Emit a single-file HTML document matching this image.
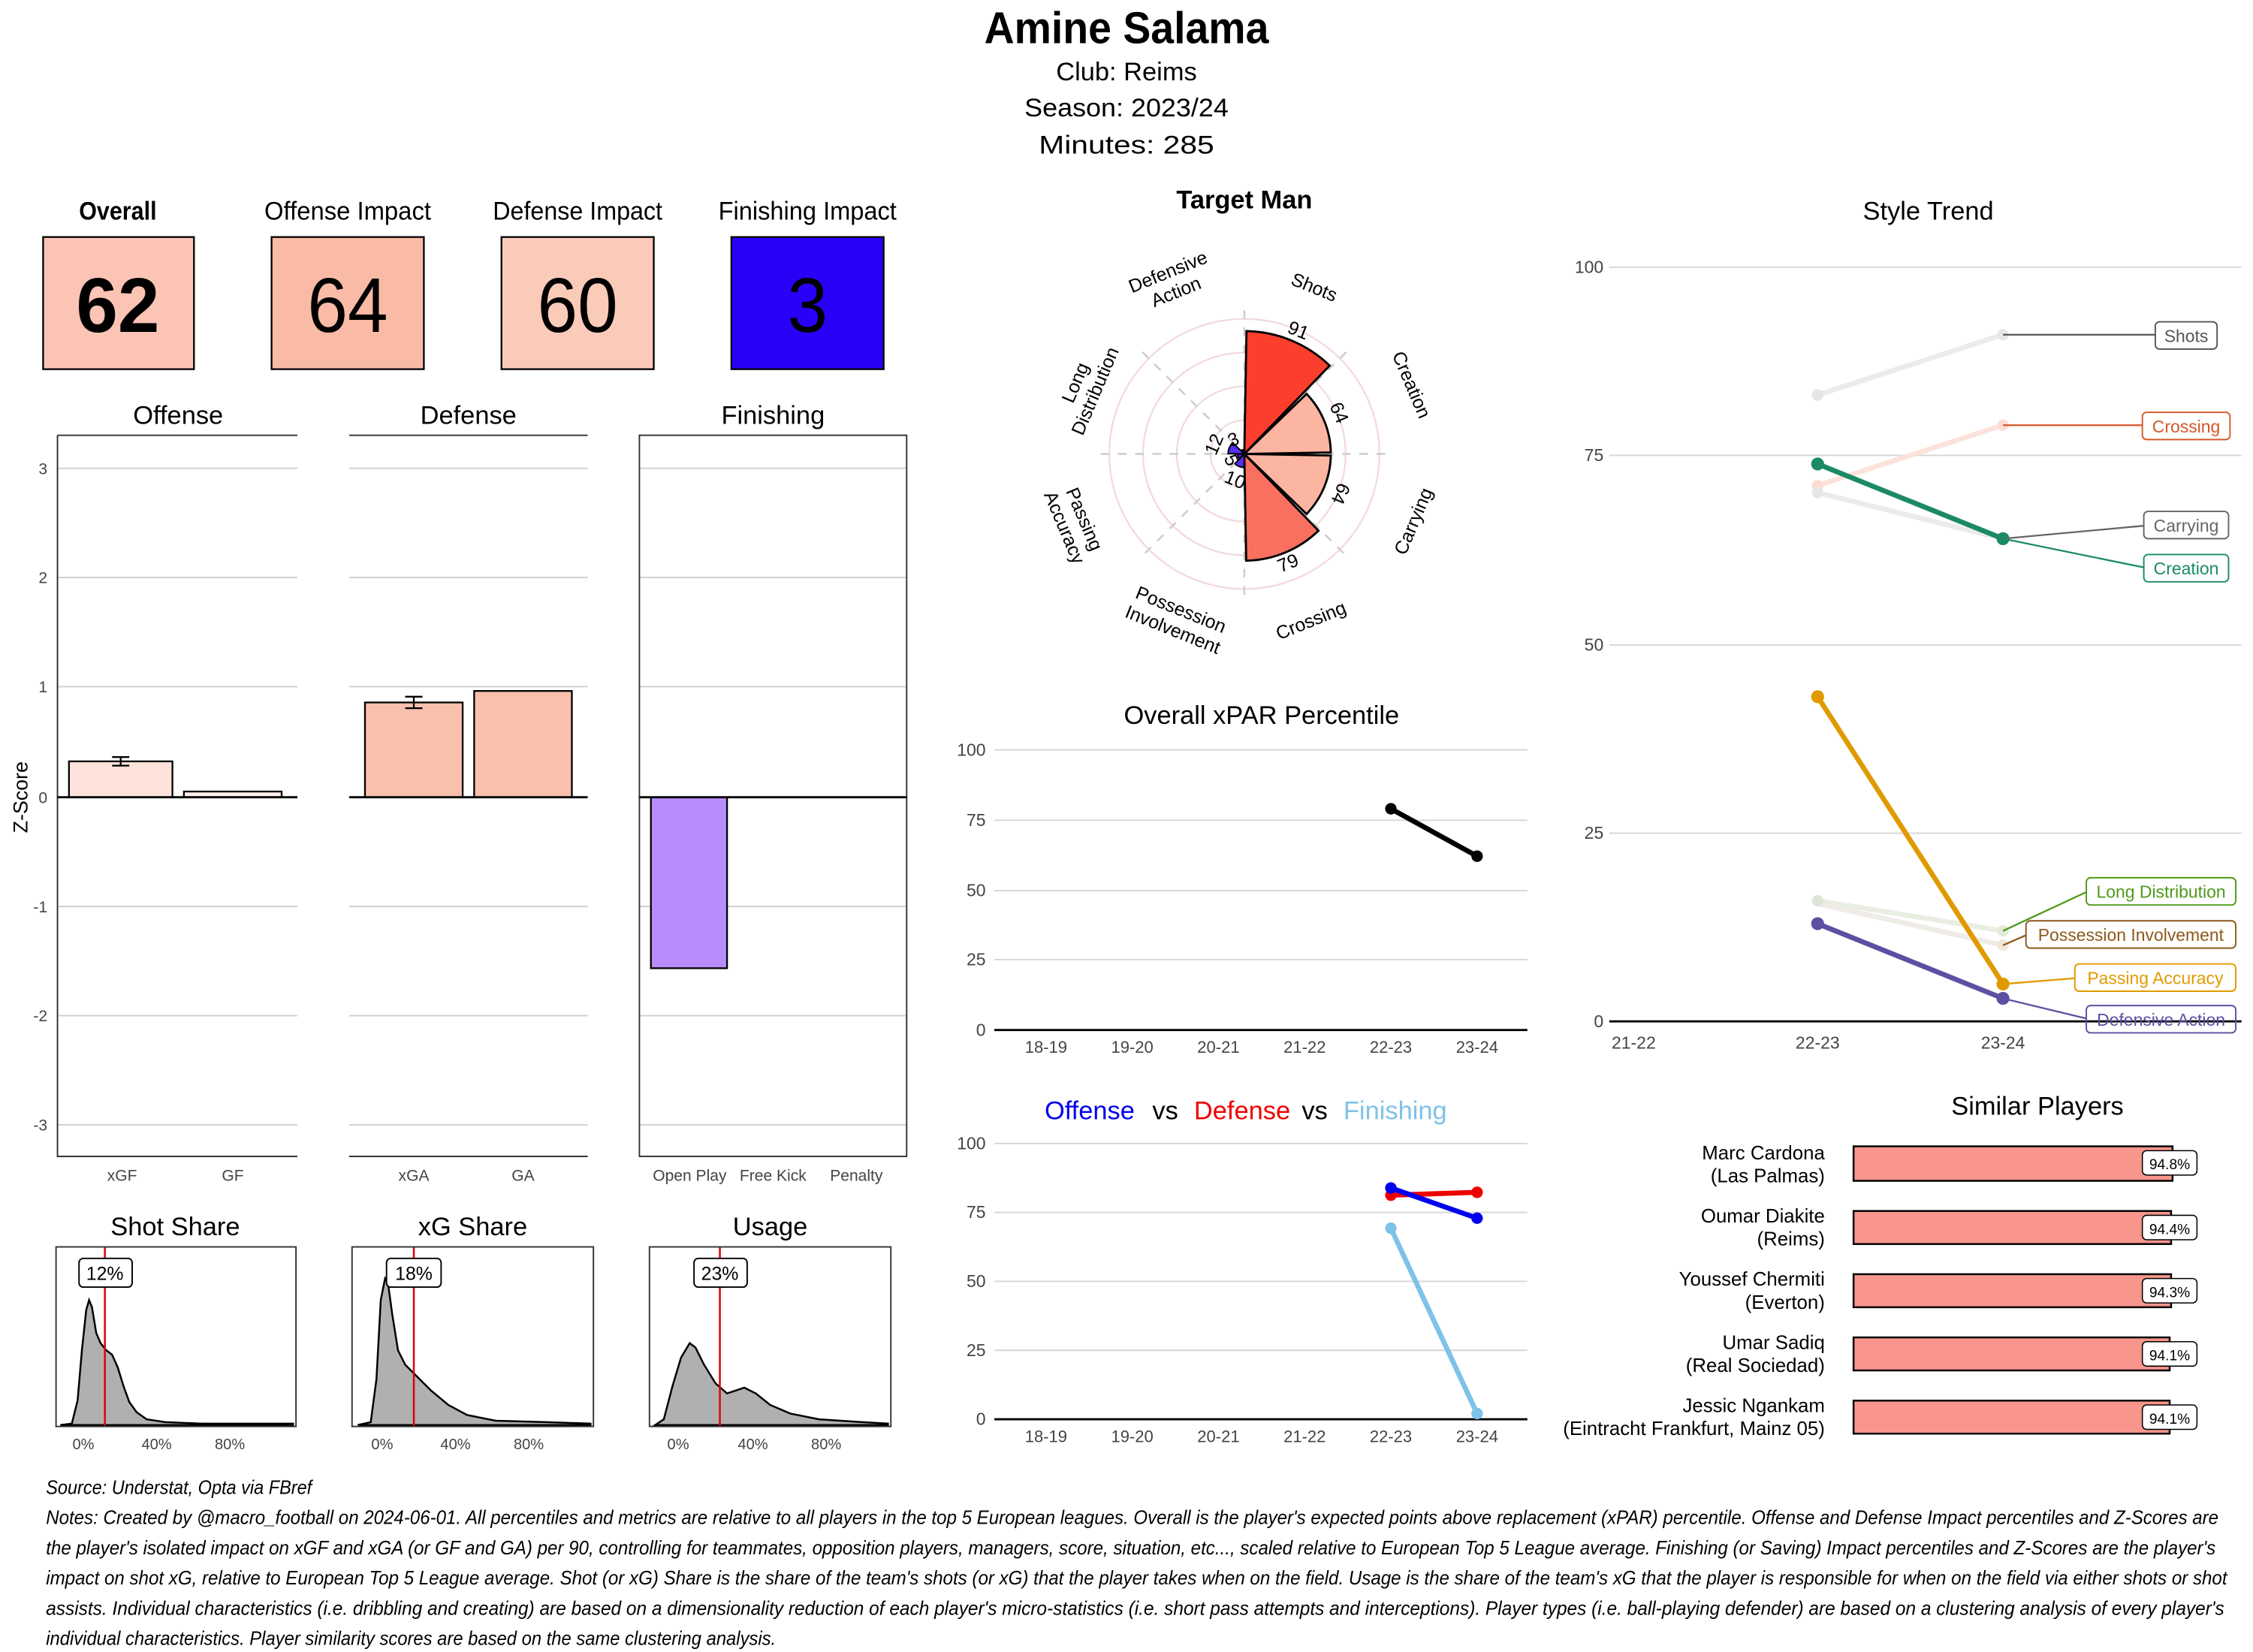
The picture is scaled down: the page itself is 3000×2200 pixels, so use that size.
<!DOCTYPE html>
<html><head><meta charset="utf-8"><style>
html,body{margin:0;padding:0;background:#fff;width:3000px;height:2200px;overflow:hidden}
svg{display:block}
text{font-family:"Liberation Sans",sans-serif}
</style></head><body>
<svg width="3000" height="2200" viewBox="0 0 1568 1150" preserveAspectRatio="none" xmlns="http://www.w3.org/2000/svg">
<rect width="1568" height="1150" fill="#fff"/>
<!-- Header -->
<text x="784" y="30" text-anchor="middle" font-size="31" font-weight="bold" textLength="198" lengthAdjust="spacingAndGlyphs">Amine Salama</text>
<text x="784" y="56" text-anchor="middle" font-size="18" textLength="98" lengthAdjust="spacingAndGlyphs">Club:  Reims</text>
<text x="784" y="81" text-anchor="middle" font-size="18" textLength="142" lengthAdjust="spacingAndGlyphs">Season:  2023/24</text>
<text x="784" y="107" text-anchor="middle" font-size="18" textLength="122" lengthAdjust="spacingAndGlyphs">Minutes:  285</text>

<!-- Score boxes -->
<g font-size="18">
<text x="82" y="153" text-anchor="middle" font-weight="bold" textLength="54" lengthAdjust="spacingAndGlyphs">Overall</text>
<text x="242" y="153" text-anchor="middle" textLength="116" lengthAdjust="spacingAndGlyphs">Offense Impact</text>
<text x="402" y="153" text-anchor="middle" textLength="118" lengthAdjust="spacingAndGlyphs">Defense Impact</text>
<text x="562" y="153" text-anchor="middle" textLength="124" lengthAdjust="spacingAndGlyphs">Finishing Impact</text>
</g>
<rect x="30" y="165" width="105" height="92" fill="#fbc4b5" stroke="#000" stroke-width="1.2"/>
<rect x="189" y="165" width="106" height="92" fill="#f9bba6" stroke="#000" stroke-width="1.2"/>
<rect x="349" y="165" width="106" height="92" fill="#fbcbb9" stroke="#000" stroke-width="1.2"/>
<rect x="509" y="165" width="106" height="92" fill="#2a00f6" stroke="#000" stroke-width="1.2"/>
<g font-size="54" text-anchor="middle">
<text x="82" y="231" font-weight="bold" textLength="58" lengthAdjust="spacingAndGlyphs">62</text>
<text x="242" y="231" textLength="56" lengthAdjust="spacingAndGlyphs">64</text>
<text x="402" y="231" textLength="56" lengthAdjust="spacingAndGlyphs">60</text>
<text x="562" y="231" textLength="28" lengthAdjust="spacingAndGlyphs">3</text>
</g>

<!-- Bar panels -->
<g font-size="18" text-anchor="middle">
<text x="124" y="295">Offense</text>
<text x="326" y="295">Defense</text>
<text x="538" y="295">Finishing</text>
</g>
<g stroke="#cfcfcf" stroke-width="1">
<line x1="40" x2="207" y1="326" y2="326"/><line x1="40" x2="207" y1="402" y2="402"/><line x1="40" x2="207" y1="478" y2="478"/><line x1="40" x2="207" y1="631" y2="631"/><line x1="40" x2="207" y1="707" y2="707"/><line x1="40" x2="207" y1="783" y2="783"/>
<line x1="243" x2="409" y1="326" y2="326"/><line x1="243" x2="409" y1="402" y2="402"/><line x1="243" x2="409" y1="478" y2="478"/><line x1="243" x2="409" y1="631" y2="631"/><line x1="243" x2="409" y1="707" y2="707"/><line x1="243" x2="409" y1="783" y2="783"/>
<line x1="445" x2="631" y1="326" y2="326"/><line x1="445" x2="631" y1="402" y2="402"/><line x1="445" x2="631" y1="478" y2="478"/><line x1="445" x2="631" y1="631" y2="631"/><line x1="445" x2="631" y1="707" y2="707"/><line x1="445" x2="631" y1="783" y2="783"/>
</g>
<g stroke="#333" stroke-width="1" fill="none">
<path d="M40,303 H207 M40,303 V805 H207"/>
<path d="M243,303 H409 M243,805 H409"/>
<rect x="445" y="303" width="186" height="502"/>
</g>
<g font-size="11" fill="#444" text-anchor="end">
<text x="33" y="330">3</text><text x="33" y="406">2</text><text x="33" y="482">1</text><text x="33" y="559">0</text><text x="33" y="635">-1</text><text x="33" y="711">-2</text><text x="33" y="787">-3</text>
</g>
<text x="19" y="555" font-size="14" text-anchor="middle" transform="rotate(-90 19 555)">Z-Score</text>
<!-- bars -->
<rect x="48" y="530" width="72" height="25" fill="#fde3dc" stroke="#000" stroke-width="1.2"/>
<rect x="128" y="551" width="68" height="4" fill="#fdeee9" stroke="#000" stroke-width="1.2"/>
<path d="M78,527 H90 M84,527 V533 M78,533 H90" stroke="#000" stroke-width="1.2"/>
<rect x="254" y="489" width="68" height="66" fill="#f9c0ad" stroke="#000" stroke-width="1.2"/>
<rect x="330" y="481" width="68" height="74" fill="#f9c0ad" stroke="#000" stroke-width="1.2"/>
<path d="M282,485 H294 M288,485 V493 M282,493 H294" stroke="#000" stroke-width="1.2"/>
<rect x="453" y="555" width="53" height="119" fill="#b98cfb" stroke="#000" stroke-width="1.2"/>
<g stroke="#000" stroke-width="1.5"><line x1="40" x2="207" y1="555" y2="555"/><line x1="243" x2="409" y1="555" y2="555"/><line x1="445" x2="631" y1="555" y2="555"/></g>
<g font-size="11" fill="#444" text-anchor="middle">
<text x="85" y="822">xGF</text><text x="162" y="822">GF</text><text x="288" y="822">xGA</text><text x="364" y="822">GA</text>
<text x="480" y="822">Open Play</text><text x="538" y="822">Free Kick</text><text x="596" y="822">Penalty</text>
</g>

<!-- Density panels -->
<g font-size="18" text-anchor="middle">
<text x="122" y="860">Shot Share</text><text x="329" y="860">xG Share</text><text x="536" y="860">Usage</text>
</g>
<path d="M42,992 L50,991 L54,975 L57,940 L60,912 L62,905 L64,910 L67,928 L70,935 L74,940 L78,943 L82,952 L86,965 L90,976 L95,983 L102,988 L115,990 L140,991 L204,991 L204,992 Z" fill="#b0b0b0" stroke="#000" stroke-width="1.3"/>
<path d="M249,992 L258,990 L262,960 L265,905 L268,890 L270,893 L273,915 L277,940 L282,950 L290,958 L300,968 L312,978 L325,985 L345,989 L380,990 L411,991 L411,992 Z" fill="#b0b0b0" stroke="#000" stroke-width="1.3"/>
<path d="M456,992 L462,988 L468,965 L474,945 L480,935 L484,938 L490,950 L498,963 L506,970 L512,968 L518,966 L526,970 L536,978 L550,984 L570,988 L600,990 L618,991 L618,992 Z" fill="#b0b0b0" stroke="#000" stroke-width="1.3"/>
<g stroke="#e00000" stroke-width="1.3"><line x1="73" x2="73" y1="868" y2="993"/><line x1="288" x2="288" y1="868" y2="993"/><line x1="501" x2="501" y1="868" y2="993"/></g>
<g fill="none" stroke="#333" stroke-width="1"><rect x="39" y="868" width="167" height="125"/><rect x="245" y="868" width="168" height="125"/><rect x="452" y="868" width="168" height="125"/></g>
<g fill="#fff" stroke="#000" stroke-width="1"><rect x="55" y="876" width="37" height="20" rx="3"/><rect x="269" y="876" width="38" height="20" rx="3"/><rect x="483" y="876" width="37" height="20" rx="3"/></g>
<g font-size="13" text-anchor="middle"><text x="73" y="891">12%</text><text x="288" y="891">18%</text><text x="501" y="891">23%</text></g>
<g font-size="10.5" fill="#444" text-anchor="middle">
<text x="58" y="1009">0%</text><text x="109" y="1009">40%</text><text x="160" y="1009">80%</text>
<text x="266" y="1009">0%</text><text x="317" y="1009">40%</text><text x="368" y="1009">80%</text>
<text x="472" y="1009">0%</text><text x="524" y="1009">40%</text><text x="575" y="1009">80%</text>
</g>

<!-- Radar -->
<text x="866" y="145" text-anchor="middle" font-size="18" font-weight="bold">Target Man</text>
<g fill="none" stroke="#f3dada" stroke-width="1.2">
<circle cx="866" cy="316" r="23.5"/><circle cx="866" cy="316" r="47"/><circle cx="866" cy="316" r="70.5"/><circle cx="866" cy="316" r="94"/>
</g>
<g stroke="#cccccc" stroke-width="1.3" stroke-dasharray="6,6">
<line x1="866" y1="216" x2="866" y2="416"/><line x1="766" y1="316" x2="966" y2="316"/>
<line x1="795" y1="245" x2="937" y2="387"/><line x1="937" y1="245" x2="795" y2="387"/>
</g>
<g stroke="#000" stroke-width="1.5">
<path d="M866,316 L867.5,230.5 A85.5,85.5 0 0 1 925.4,254.5 Z" fill="#fb3f2c"/>
<path d="M866,316 L909.3,274.2 A60.2,60.2 0 0 1 926.2,315 Z" fill="#fbb5a0"/>
<path d="M866,316 L926.2,317.1 A60.2,60.2 0 0 1 909.3,357.8 Z" fill="#fbb5a0"/>
<path d="M866,316 L917.6,369.4 A74.3,74.3 0 0 1 867.3,390.3 Z" fill="#fa7060"/>
<path d="M866,316 L865.8,325.4 A9.4,9.4 0 0 1 859.5,322.8 Z" fill="#5a2ef0" stroke-width="1"/>
<path d="M866,316 L862.6,319.3 A4.7,4.7 0 0 1 861.3,316.1 Z" fill="#4a1ff5" stroke-width="1"/>
<path d="M866,316 L854.7,315.8 A11.3,11.3 0 0 1 857.9,308.2 Z" fill="#5a2ef0" stroke-width="1"/>
<path d="M866,316 L864.1,313.3 A2.8,2.8 0 0 1 865.9,313.2 Z" fill="#3a10f5" stroke-width="1"/>
</g>
<g font-size="13" text-anchor="middle">
<text x="902" y="234" transform="rotate(22 902 234)">91</text>
<text x="928" y="289" transform="rotate(67 928 289)">64</text>
<text x="929" y="342" transform="rotate(113 929 342)">64</text>
<text x="898" y="396" transform="rotate(-22 898 396)">79</text>
<text x="849" y="311" transform="rotate(-67 849 311)">12</text>
<text x="860" y="310" transform="rotate(-22 860 310)">3</text>
<text x="853" y="322" transform="rotate(67 853 322)">5</text>
<text x="858" y="338" transform="rotate(22 858 338)">10</text>
</g>
<g font-size="13" text-anchor="middle">
<text x="913" y="204" transform="rotate(22 913 204)">Shots</text>
<text x="982" y="268" transform="rotate(67 982 268)" dy="4">Creation</text>
<text x="984" y="363" transform="rotate(-67 984 363)" dy="4">Carrying</text>
<text x="914" y="436" transform="rotate(-22 914 436)">Crossing</text>
<g transform="rotate(22 818 434)"><text x="818" y="428">Possession</text><text x="818" y="443">Involvement</text></g>
<g transform="rotate(67 746 365)"><text x="746" y="360">Passing</text><text x="746" y="375">Accuracy</text></g>
<g transform="rotate(-67 757 270)"><text x="757" y="265">Long</text><text x="757" y="280">Distribution</text></g>
<g transform="rotate(-22 816 197)"><text x="816" y="193">Defensive</text><text x="816" y="208">Action</text></g>
</g>

<!-- xPAR -->
<text x="878" y="504" text-anchor="middle" font-size="18">Overall xPAR Percentile</text>
<g stroke="#d6d6d6"><line x1="692" x2="1063" y1="522" y2="522"/><line x1="692" x2="1063" y1="571" y2="571"/><line x1="692" x2="1063" y1="620" y2="620"/><line x1="692" x2="1063" y1="668" y2="668"/></g>
<line x1="692" x2="1063" y1="717" y2="717" stroke="#000" stroke-width="1.5"/>
<g font-size="12" fill="#444" text-anchor="end"><text x="686" y="526">100</text><text x="686" y="575">75</text><text x="686" y="624">50</text><text x="686" y="672">25</text><text x="686" y="721">0</text></g>
<g font-size="11.5" fill="#444" text-anchor="middle"><text x="728" y="733">18-19</text><text x="788" y="733">19-20</text><text x="848" y="733">20-21</text><text x="908" y="733">21-22</text><text x="968" y="733">22-23</text><text x="1028" y="733">23-24</text></g>
<line x1="968" y1="563" x2="1028" y2="596" stroke="#000" stroke-width="3.5"/>
<circle cx="968" cy="563" r="4"/><circle cx="1028" cy="596" r="4"/>

<!-- OvDvF -->
<g font-size="18"><text x="727" y="779" fill="#0000ee">Offense</text><text x="802" y="779">vs</text><text x="831" y="779" fill="#ee0000">Defense</text><text x="906" y="779">vs</text><text x="935" y="779" fill="#7ec2e8">Finishing</text></g>
<g stroke="#d6d6d6"><line x1="692" x2="1063" y1="796" y2="796"/><line x1="692" x2="1063" y1="844" y2="844"/><line x1="692" x2="1063" y1="892" y2="892"/><line x1="692" x2="1063" y1="940" y2="940"/></g>
<line x1="692" x2="1063" y1="988" y2="988" stroke="#000" stroke-width="1.5"/>
<g font-size="12" fill="#444" text-anchor="end"><text x="686" y="800">100</text><text x="686" y="848">75</text><text x="686" y="896">50</text><text x="686" y="944">25</text><text x="686" y="992">0</text></g>
<g font-size="11.5" fill="#444" text-anchor="middle"><text x="728" y="1004">18-19</text><text x="788" y="1004">19-20</text><text x="848" y="1004">20-21</text><text x="908" y="1004">21-22</text><text x="968" y="1004">22-23</text><text x="1028" y="1004">23-24</text></g>
<line x1="968" y1="855" x2="1028" y2="984" stroke="#7ec2e8" stroke-width="3.5"/>
<circle cx="968" cy="855" r="4" fill="#7ec2e8"/><circle cx="1028" cy="984" r="4" fill="#7ec2e8"/>
<line x1="968" y1="832" x2="1028" y2="830" stroke="#ee0000" stroke-width="3.5"/>
<circle cx="968" cy="832" r="4" fill="#ee0000"/><circle cx="1028" cy="830" r="4" fill="#ee0000"/>
<line x1="968" y1="827" x2="1028" y2="848" stroke="#0000ee" stroke-width="3.5"/>
<circle cx="968" cy="827" r="4" fill="#0000ee"/><circle cx="1028" cy="848" r="4" fill="#0000ee"/>

<!-- Style Trend -->
<text x="1342" y="153" text-anchor="middle" font-size="18">Style Trend</text>
<g stroke="#d6d6d6"><line x1="1120" x2="1560" y1="186" y2="186"/><line x1="1120" x2="1560" y1="317" y2="317"/><line x1="1120" x2="1560" y1="449" y2="449"/><line x1="1120" x2="1560" y1="580" y2="580"/></g>
<line x1="1120" x2="1560" y1="711" y2="711" stroke="#000" stroke-width="1.5"/>
<g font-size="12" fill="#444" text-anchor="end"><text x="1116" y="190">100</text><text x="1116" y="321">75</text><text x="1116" y="453">50</text><text x="1116" y="584">25</text><text x="1116" y="715">0</text></g>
<g font-size="12" fill="#444" text-anchor="middle"><text x="1137" y="730">21-22</text><text x="1265" y="730">22-23</text><text x="1394" y="730">23-24</text></g>
<!-- faded lines -->
<g stroke-width="3.5" fill="none">
<line x1="1265" y1="275" x2="1394" y2="233" stroke="#ebebeb"/>
<line x1="1265" y1="338" x2="1394" y2="296" stroke="#fbe3dc"/>
<line x1="1265" y1="343" x2="1394" y2="375" stroke="#ebebeb"/>
<line x1="1265" y1="627" x2="1394" y2="648" stroke="#e9eee2"/>
<line x1="1265" y1="629" x2="1394" y2="658" stroke="#efece8"/>
</g>
<g><circle cx="1265" cy="275" r="4" fill="#e6e6e6"/><circle cx="1394" cy="233" r="4" fill="#e6e6e6"/>
<circle cx="1265" cy="338" r="4" fill="#fadcd2"/><circle cx="1394" cy="296" r="4" fill="#fadcd2"/>
<circle cx="1265" cy="343" r="4" fill="#e6e6e6"/>
<circle cx="1265" cy="627" r="4" fill="#dfe4d8"/><circle cx="1394" cy="648" r="4" fill="#e4ead8"/><circle cx="1394" cy="658" r="4" fill="#efe6dc"/></g>
<line x1="1265" y1="323" x2="1394" y2="375" stroke="#1b8a64" stroke-width="3.5"/>
<circle cx="1265" cy="323" r="4.5" fill="#1b8a64"/><circle cx="1394" cy="375" r="4.5" fill="#1b8a64"/>
<line x1="1265" y1="485" x2="1394" y2="685" stroke="#e09a00" stroke-width="3.5"/>
<circle cx="1265" cy="485" r="4.5" fill="#e09a00"/><circle cx="1394" cy="685" r="4.5" fill="#e09a00"/>
<line x1="1265" y1="643" x2="1394" y2="695" stroke="#5e4fa2" stroke-width="3.5"/>
<circle cx="1265" cy="643" r="4.5" fill="#5e4fa2"/><circle cx="1394" cy="695" r="4.5" fill="#5e4fa2"/>
<!-- connectors -->
<g stroke-width="1.2" fill="none">
<line x1="1394" y1="233" x2="1500" y2="233" stroke="#555"/>
<line x1="1394" y1="296" x2="1491" y2="296" stroke="#d5582a"/>
<line x1="1394" y1="375" x2="1492" y2="366" stroke="#666"/>
<line x1="1394" y1="375" x2="1492" y2="395" stroke="#1b8a64"/>
<line x1="1394" y1="648" x2="1452" y2="621" stroke="#4f9a1a"/>
<line x1="1394" y1="658" x2="1410" y2="651" stroke="#8c5a1a"/>
<line x1="1394" y1="685" x2="1444" y2="681" stroke="#e09a00"/>
<line x1="1394" y1="695" x2="1452" y2="709" stroke="#5e4fa2"/>
</g>
<g fill="#fff" stroke-width="1">
<rect x="1500" y="224" width="43" height="19" rx="3" stroke="#555"/>
<rect x="1491" y="287" width="61" height="19" rx="3" stroke="#d5582a"/>
<rect x="1492" y="356" width="59" height="19" rx="3" stroke="#666"/>
<rect x="1492" y="386" width="59" height="19" rx="3" stroke="#1b8a64"/>
<rect x="1452" y="611" width="104" height="19" rx="3" stroke="#4f9a1a"/>
<rect x="1410" y="641" width="146" height="19" rx="3" stroke="#8c5a1a"/>
<rect x="1444" y="671" width="112" height="19" rx="3" stroke="#e09a00"/>
<rect x="1452" y="700" width="104" height="19" rx="3" stroke="#5e4fa2" fill="none"/>
</g>
<g font-size="12" text-anchor="middle">
<text x="1521.5" y="238" fill="#555">Shots</text>
<text x="1521.5" y="301" fill="#d5582a">Crossing</text>
<text x="1521.5" y="370" fill="#666">Carrying</text>
<text x="1521.5" y="400" fill="#1b8a64">Creation</text>
<text x="1504" y="625" fill="#4f9a1a">Long Distribution</text>
<text x="1483" y="655" fill="#8c5a1a">Possession Involvement</text>
<text x="1500" y="685" fill="#e09a00">Passing Accuracy</text>
<text x="1504" y="714" fill="#5e4fa2">Defensive Action</text>
</g>

<!-- Similar players -->
<text x="1418" y="776" text-anchor="middle" font-size="18">Similar Players</text>
<g fill="#f8958c" stroke="#000" stroke-width="1.3">
<rect x="1290" y="798" width="222" height="24"/><rect x="1290" y="843" width="221" height="23"/><rect x="1290" y="887" width="221" height="23"/><rect x="1290" y="931" width="220" height="23"/><rect x="1290" y="975" width="220" height="23"/>
</g>
<g fill="#fff" stroke="#000" stroke-width="0.8">
<rect x="1491" y="801" width="38" height="17" rx="3"/><rect x="1491" y="846" width="38" height="17" rx="3"/><rect x="1491" y="890" width="38" height="17" rx="3"/><rect x="1491" y="934" width="38" height="17" rx="3"/><rect x="1491" y="978" width="38" height="17" rx="3"/>
</g>
<g font-size="10" text-anchor="middle">
<text x="1510" y="814">94.8%</text><text x="1510" y="859">94.4%</text><text x="1510" y="903">94.3%</text><text x="1510" y="947">94.1%</text><text x="1510" y="991">94.1%</text>
</g>
<g font-size="13.5" text-anchor="end">
<text x="1270" y="807">Marc Cardona</text><text x="1270" y="823">(Las Palmas)</text>
<text x="1270" y="851">Oumar Diakite</text><text x="1270" y="867">(Reims)</text>
<text x="1270" y="895">Youssef Chermiti</text><text x="1270" y="911">(Everton)</text>
<text x="1270" y="939">Umar Sadiq</text><text x="1270" y="955">(Real Sociedad)</text>
<text x="1270" y="983">Jessic Ngankam</text><text x="1270" y="999">(Eintracht Frankfurt, Mainz 05)</text>
</g>

<!-- Notes -->
<g font-size="13.5" font-style="italic">
<text x="32" y="1040" textLength="185" lengthAdjust="spacingAndGlyphs">Source: Understat, Opta via FBref</text>
<text x="32" y="1061" textLength="1512" lengthAdjust="spacingAndGlyphs">Notes: Created by @macro_football on 2024-06-01. All percentiles and metrics are relative to all players in the top 5 European leagues. Overall is the player's expected points above replacement (xPAR) percentile. Offense and Defense Impact percentiles and Z-Scores are</text>
<text x="32" y="1082" textLength="1510" lengthAdjust="spacingAndGlyphs">the player's isolated impact on xGF and xGA (or GF and GA) per 90, controlling for teammates, opposition players, managers, score, situation, etc..., scaled relative to European Top 5 League average. Finishing (or Saving) Impact percentiles and Z-Scores are the player's</text>
<text x="32" y="1103" textLength="1518" lengthAdjust="spacingAndGlyphs">impact on shot xG, relative to European Top 5 League average. Shot (or xG) Share is the share of the team's shots (or xG) that the player takes when on the field. Usage is the share of the team's xG that the player is responsible for when on the field via either shots or shot</text>
<text x="32" y="1124" textLength="1516" lengthAdjust="spacingAndGlyphs">assists. Individual characteristics (i.e. dribbling and creating) are based on a dimensionality reduction of each player's micro-statistics (i.e. short pass attempts and interceptions). Player types (i.e. ball-playing defender) are based on a clustering analysis of every player's</text>
<text x="32" y="1145" textLength="508" lengthAdjust="spacingAndGlyphs">individual characteristics. Player similarity scores are based on the same clustering analysis.</text>
</g>
</svg>
</body></html>
